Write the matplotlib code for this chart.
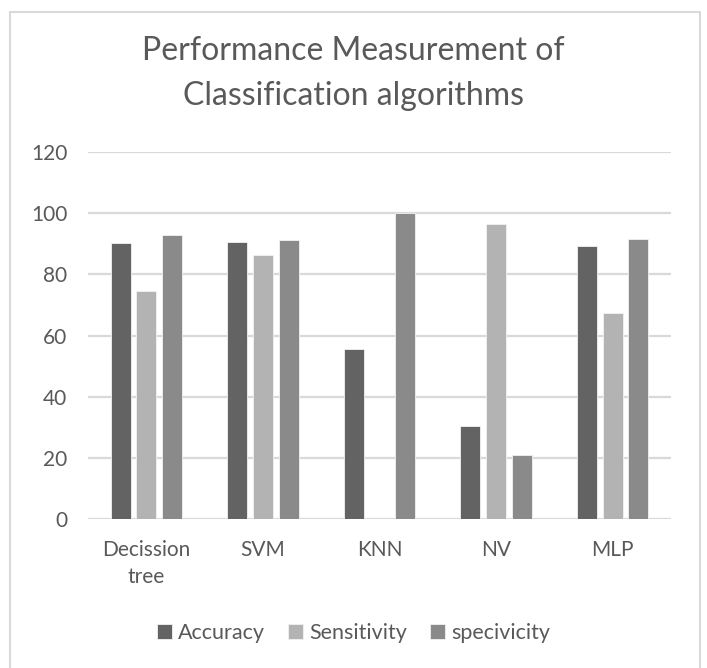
import numpy as np
import matplotlib
matplotlib.use('Agg')
import matplotlib.pyplot as plt
from matplotlib.patches import Rectangle

categories = ['Decission\ntree', 'SVM', 'KNN', 'NV', 'MLP']
accuracy = [90.3, 90.5, 55.6, 30.5, 89.2]
sensitivity = [74.5, 86.2, 0, 96.5, 67.5]
specivicity = [92.9, 91.2, 100, 20.9, 91.5]
series = ['Accuracy', 'Sensitivity', 'specivicity']
colors = ['#636363', '#b3b3b3', '#8a8a8a']
yticks = [0, 20, 40, 60, 80, 100, 120]

plt.rcParams['font.family'] = ['Lato', 'DejaVu Sans']
txt = '#595959'

fig = plt.figure(figsize=(7.07, 6.68), dpi=100)
ax = fig.add_axes([0.1245, 0.223, 0.8245, 0.5495])

# chart border
fig.patches.append(Rectangle((10 / 707, -0.01), 690 / 707, 1 - 12 / 668 + 0.01,
                             transform=fig.transFigure, fill=False,
                             edgecolor='#d9d9d9', linewidth=1.5))

x = np.arange(len(categories))
step = 0.22
width = 0.172
for i, (name, vals) in enumerate(zip(series, [accuracy, sensitivity, specivicity])):
    ax.bar(x + (i - 1) * step, vals, width, color=colors[i], label=name,
           edgecolor='#f2f2f2', linewidth=0.6, zorder=3)

ax.set_xlim(-0.5, len(categories) - 0.5)
ax.set_ylim(0, 120)
ax.set_yticks(yticks)
ax.set_xticks(x)
ax.set_xticklabels(categories, fontsize=15, color=txt, linespacing=1.45)
ax.tick_params(axis='y', labelsize=15, colors=txt, length=0, pad=15)
ax.tick_params(axis='x', length=0, pad=15)
ax.grid(axis='y', color='#d9d9d9', linewidth=1.6, zorder=0)
for s in ax.spines.values():
    s.set_visible(False)

fig.text(0.5, 0.923, 'Performance Measurement of', ha='center', va='center',
         fontsize=23, color=txt)
fig.text(0.5, 0.856, 'Classification algorithms', ha='center', va='center',
         fontsize=23, color=txt)

fig.legend(loc='center', bbox_to_anchor=(0.5, 0.052), ncol=3, frameon=False,
           fontsize=15.5, labelcolor=txt, handlelength=0.7, handleheight=0.7,
           handletextpad=0.25, columnspacing=1.1)

fig.savefig('out.png', dpi=100)
